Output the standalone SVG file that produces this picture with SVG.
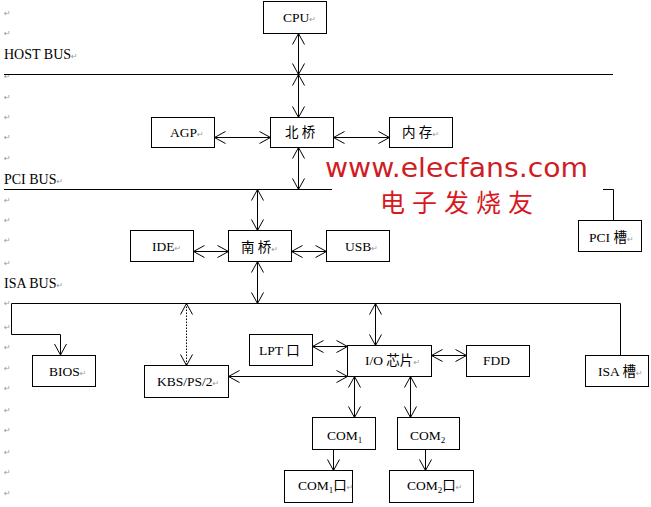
<svg xmlns="http://www.w3.org/2000/svg" width="651" height="507" viewBox="0 0 651 507">
<defs>
<style>
.b{fill:#fff;stroke:#000;stroke-width:1}
.t{font-family:"Liberation Serif","Noto Sans CJK SC",serif;font-size:13.5px;fill:#000}
.bus{font-family:"Liberation Serif",serif;font-size:14px;fill:#000}
.m{font-family:"DejaVu Sans",sans-serif;font-size:8px;fill:#999}
.l{stroke:#000;stroke-width:1;fill:none}
.d{stroke-dasharray:1.5 1.5}
.a2{marker-start:url(#ah);marker-end:url(#ah)}
.a1{marker-end:url(#ah)}
.wm{font-family:"DejaVu Sans",sans-serif;fill:#d01c24}
.wc{font-family:"Noto Sans CJK SC",sans-serif;fill:#d81820}
</style>
<marker id="ah" viewBox="-12 -7 13 14" refX="0" refY="0" markerWidth="13" markerHeight="14" markerUnits="userSpaceOnUse" orient="auto-start-reverse">
<path d="M-11,-6 L0,0 L-11,6" fill="none" stroke="#000" stroke-width="1"/>
</marker>
</defs>
<rect width="651" height="507" fill="#fff"/>

<g id="margin-marks" class="m">
<text x="4" y="16">↵</text><text x="4" y="36">↵</text><text x="4" y="79">↵</text>
<text x="4" y="100">↵</text><text x="4" y="120">↵</text><text x="4" y="140">↵</text>
<text x="4" y="161">↵</text><text x="4" y="203">↵</text><text x="4" y="223">↵</text>
<text x="4" y="243">↵</text><text x="4" y="266">↵</text><text x="4" y="306">↵</text>
<text x="4" y="330">↵</text><text x="4" y="350">↵</text><text x="4" y="371">↵</text>
<text x="4" y="391">↵</text><text x="4" y="413">↵</text><text x="4" y="433">↵</text>
<text x="4" y="455">↵</text><text x="4" y="475">↵</text><text x="4" y="496">↵</text>
</g>

<g id="bus-labels">
<text class="bus" x="4" y="59">HOST BUS<tspan class="m">↵</tspan></text>
<text class="bus" x="4" y="184">PCI BUS<tspan class="m">↵</tspan></text>
<text class="bus" x="4" y="288">ISA BUS<tspan class="m">↵</tspan></text>
</g>

<g id="connectors">
<!-- buses -->
<line class="l" x1="4" y1="74.5" x2="613" y2="74.5"/>
<line class="l" x1="4" y1="189.5" x2="332" y2="189.5"/>
<polyline class="l" points="603,189.5 613.5,189.5 613.5,220"/>
<line class="l" x1="11.5" y1="303.5" x2="620.5" y2="303.5"/>
<line class="l" x1="620.5" y1="303.5" x2="620.5" y2="355"/>
<polyline class="l a1" points="11.5,303.5 11.5,334.5 60.5,334.5 60.5,355"/>
<!-- CPU / north bridge -->
<line class="l a2" x1="298.5" y1="33.5" x2="298.5" y2="74.5"/>
<line class="l a2" x1="298.5" y1="74.5" x2="298.5" y2="117.5"/>
<line class="l a2" x1="298.5" y1="147.5" x2="298.5" y2="189.5"/>
<line class="l a2" x1="214.5" y1="137.5" x2="270.5" y2="137.5"/>
<line class="l a2" x1="333.5" y1="137.5" x2="389.5" y2="137.5"/>
<!-- south bridge -->
<line class="l a2" x1="257.5" y1="189.5" x2="257.5" y2="230.5"/>
<line class="l a2" x1="193.5" y1="251.5" x2="228.5" y2="251.5"/>
<line class="l a2" x1="291.5" y1="251.5" x2="326.5" y2="251.5"/>
<line class="l a2" x1="257.5" y1="261.5" x2="257.5" y2="303.5"/>
<!-- ISA devices -->
<line class="l d a2" x1="186.5" y1="303.5" x2="186.5" y2="365.5"/>
<line class="l a2" x1="375.5" y1="303.5" x2="375.5" y2="345.5"/>
<line class="l a2" x1="312.5" y1="346.5" x2="347.5" y2="346.5"/>
<line class="l a2" x1="228.5" y1="376.5" x2="347.5" y2="376.5"/>
<line class="l a2" x1="431.5" y1="355.5" x2="466.5" y2="355.5"/>
<line class="l a2" x1="354.5" y1="376.5" x2="354.5" y2="417.5"/>
<line class="l a2" x1="410.5" y1="376.5" x2="410.5" y2="417.5"/>
<line class="l a1" x1="333.5" y1="449.5" x2="333.5" y2="470.5"/>
<line class="l a1" x1="425.5" y1="449.5" x2="425.5" y2="470.5"/>
</g>

<g id="cpu"><rect class="b" x="263.5" y="1.5" width="63" height="32"/><text class="t" x="283" y="22">CPU<tspan class="m">↵</tspan></text></g>
<g id="agp"><rect class="b" x="151.5" y="117.5" width="63" height="30"/><text class="t" x="170" y="137">AGP<tspan class="m">↵</tspan></text></g>
<g id="northbridge"><rect class="b" x="270.5" y="117.5" width="63" height="30"/><text class="t" x="285" y="137" font-size="14">北 桥</text></g>
<g id="memory"><rect class="b" x="389.5" y="117.5" width="63" height="30"/><text class="t" x="402" y="137" font-size="14">内 存<tspan class="m">↵</tspan></text></g>
<g id="ide"><rect class="b" x="130.5" y="230.5" width="63" height="31"/><text class="t" x="152" y="251">IDE<tspan class="m">↵</tspan></text></g>
<g id="southbridge"><rect class="b" x="228.5" y="230.5" width="63" height="31"/><text class="t" x="241" y="252" font-size="14">南 桥<tspan class="m">↵</tspan></text></g>
<g id="usb"><rect class="b" x="326.5" y="230.5" width="63" height="31"/><text class="t" x="345" y="251">USB<tspan class="m">↵</tspan></text></g>
<g id="pci-slot"><rect class="b" x="578.5" y="220.5" width="63" height="31"/><text class="t" x="589" y="242">PCI 槽<tspan class="m">↵</tspan></text></g>
<g id="bios"><rect class="b" x="32.5" y="355.5" width="63" height="31"/><text class="t" x="49" y="376">BIOS<tspan class="m">↵</tspan></text></g>
<g id="kbs"><rect class="b" x="144.5" y="365.5" width="84" height="32"/><text class="t" x="157" y="386">KBS/PS/2<tspan class="m">↵</tspan></text></g>
<g id="lpt"><rect class="b" x="249.5" y="334.5" width="63" height="31"/><text class="t" x="259" y="355">LPT 口</text></g>
<g id="io-chip"><rect class="b" x="347.5" y="345.5" width="84" height="31"/><text class="t" x="365" y="365">I/O 芯片<tspan class="m">↵</tspan></text></g>
<g id="fdd"><rect class="b" x="466.5" y="345.5" width="63" height="31"/><text class="t" x="483" y="365">FDD</text></g>
<g id="isa-slot"><rect class="b" x="585.5" y="355.5" width="63" height="31"/><text class="t" x="598" y="376">ISA 槽<tspan class="m">↵</tspan></text></g>
<g id="com1"><rect class="b" x="312.5" y="417.5" width="63" height="32"/><text class="t" x="327" y="440">COM<tspan font-size="9" dy="3">1</tspan></text></g>
<g id="com2"><rect class="b" x="397.5" y="417.5" width="62" height="32"/><text class="t" x="410" y="440">COM<tspan font-size="9" dy="3">2</tspan></text></g>
<g id="com1-port"><rect class="b" x="284.5" y="470.5" width="68" height="32"/><text class="t" x="298" y="490">COM<tspan font-size="9" dy="3">1</tspan><tspan dy="-3">口</tspan><tspan class="m">↵</tspan></text></g>
<g id="com2-port"><rect class="b" x="389.5" y="470.5" width="84" height="32"/><text class="t" x="407" y="490">COM<tspan font-size="9" dy="3">2</tspan><tspan dy="-3">口</tspan><tspan class="m">↵</tspan></text></g>

<g id="watermark">
<text class="wm" x="325" y="177" font-size="27" textLength="263" lengthAdjust="spacingAndGlyphs">www.elecfans.com</text>
<text class="wc" x="380" y="212" font-size="25" textLength="153">电子发烧友</text>
</g>
</svg>
